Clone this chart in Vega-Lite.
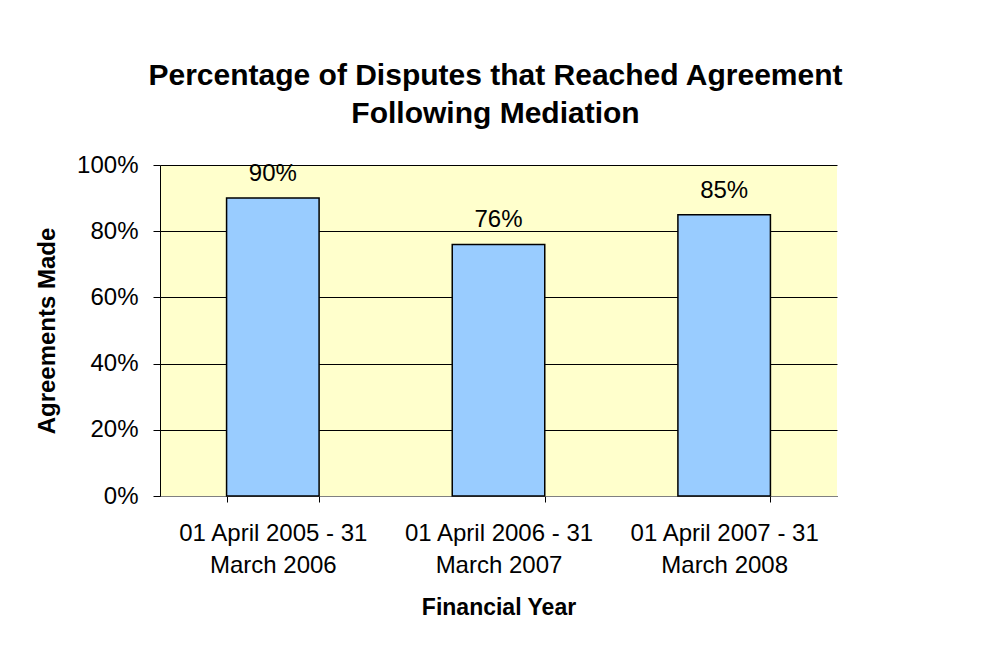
{
  "$schema": "https://vega.github.io/schema/vega-lite/v6.json",
  "autosize": {"type": "none"},
  "padding": {"left": 160, "top": 165, "right": 152, "bottom": 155},
  "width": 677,
  "height": 331,
  "background": "white",
  "title": {
    "text": ["Percentage of Disputes that Reached Agreement", "Following Mediation"],
    "font": "Liberation Sans",
    "fontSize": 30,
    "fontWeight": "bold",
    "color": "black",
    "anchor": "middle",
    "lineHeight": 38,
    "offset": 24,
    "dx": -3
  },
  "data": {
    "values": [
      {"year": "01 April 2005 - 31 March 2006", "pct": 0.90},
      {"year": "01 April 2006 - 31 March 2007", "pct": 0.76},
      {"year": "01 April 2007 - 31 March 2008", "pct": 0.85}
    ]
  },
  "encoding": {
    "x": {
      "field": "year",
      "type": "nominal",
      "sort": null,
      "scale": {"paddingInner": 0.59, "paddingOuter": 0.295},
      "axis": {
        "title": "Financial Year",
        "titleFont": "Liberation Sans",
        "titleFontSize": 23,
        "titleFontWeight": "bold",
        "titleColor": "black",
        "titlePadding": 19,
        "labelFont": "Liberation Sans",
        "labelFontSize": 24,
        "labelColor": "black",
        "labelAngle": 0,
        "labelPadding": 19,
        "labelLineHeight": 32,
        "labelLimit": 0,
        "labelExpr": "[slice(datum.label, 0, 18), slice(datum.label, 19)]",
        "tickBand": "extent",
        "tickSize": 6,
        "tickColor": "black",
        "domainColor": "#808080",
        "grid": false
      }
    },
    "y": {
      "field": "pct",
      "type": "quantitative",
      "scale": {"domain": [0, 1], "nice": false},
      "axis": {
        "title": "Agreements Made",
        "titleFont": "Liberation Sans",
        "titleFontSize": 24,
        "titleFontWeight": "bold",
        "titleColor": "black",
        "titlePadding": 17,
        "labelFont": "Liberation Sans",
        "labelFontSize": 24,
        "labelColor": "black",
        "labelPadding": 15,
        "values": [0, 0.2, 0.4, 0.6, 0.8, 1],
        "format": ".0%",
        "tickSize": 7,
        "tickColor": "black",
        "domainColor": "black",
        "gridColor": "black",
        "gridOpacity": 1,
        "gridWidth": 1
      }
    }
  },
  "layer": [
    {
      "mark": {"type": "bar", "color": "#99CCFF", "stroke": "black", "strokeWidth": 1.5}
    },
    {
      "mark": {"type": "text", "font": "Liberation Sans", "fontSize": 24, "color": "black", "baseline": "alphabetic", "dy": -17},
      "encoding": {"text": {"field": "pct", "type": "quantitative", "format": ".0%"}}
    }
  ],
  "config": {
    "view": {"fill": "#FFFFCC", "stroke": null},
    "axis": {"gridColor": "black"}
  }
}
